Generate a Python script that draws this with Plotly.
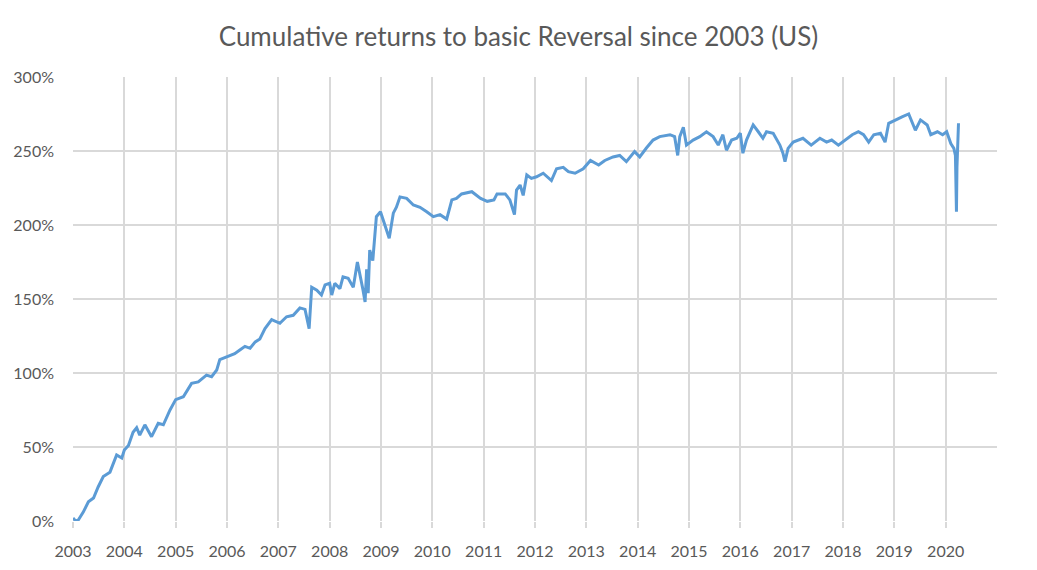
import plotly.graph_objects as go

# decimal year positions and cumulative return (%)
years = [
    2003.00, 2003.05, 2003.10, 2003.20, 2003.30, 2003.40, 2003.49, 2003.59, 2003.72, 2003.85, 2003.95,
    2004.00, 2004.08, 2004.17, 2004.24, 2004.30, 2004.40, 2004.53, 2004.66, 2004.76, 2004.89,
    2005.00, 2005.15, 2005.31, 2005.44, 2005.60, 2005.70, 2005.80, 2005.86, 2005.99,
    2006.15, 2006.25, 2006.35, 2006.45, 2006.55, 2006.64, 2006.74, 2006.87,
    2007.03, 2007.16, 2007.29, 2007.42, 2007.52, 2007.60, 2007.65, 2007.75, 2007.84, 2007.91,
    2008.00, 2008.04, 2008.10, 2008.20, 2008.26, 2008.36, 2008.46, 2008.54, 2008.59, 2008.65,
    2008.69, 2008.72, 2008.75, 2008.78, 2008.84, 2008.88, 2008.91, 2008.99,
    2009.08, 2009.16, 2009.24, 2009.30, 2009.37, 2009.50, 2009.63, 2009.76, 2009.89,
    2010.02, 2010.15, 2010.28, 2010.38, 2010.47, 2010.57, 2010.77, 2010.94,
    2011.07, 2011.20, 2011.26, 2011.42, 2011.51, 2011.60, 2011.64, 2011.71, 2011.77, 2011.84, 2011.93,
    2012.03, 2012.16, 2012.32, 2012.42, 2012.55, 2012.65, 2012.78, 2012.94,
    2013.08, 2013.24, 2013.36, 2013.52, 2013.65, 2013.78, 2013.94,
    2014.04, 2014.17, 2014.30, 2014.43, 2014.63, 2014.72, 2014.78, 2014.82, 2014.89, 2014.95,
    2015.08, 2015.21, 2015.34, 2015.47, 2015.57, 2015.66, 2015.73, 2015.83, 2015.93,
    2016.00, 2016.05, 2016.12, 2016.25, 2016.35, 2016.44, 2016.51, 2016.64, 2016.77, 2016.83, 2016.87, 2016.93,
    2017.03, 2017.22, 2017.38, 2017.55, 2017.68, 2017.78, 2017.91,
    2018.04, 2018.18, 2018.30, 2018.40, 2018.50, 2018.60, 2018.73, 2018.82, 2018.89,
    2019.02, 2019.15, 2019.28, 2019.41, 2019.51, 2019.64, 2019.71, 2019.84, 2019.94,
    2020.02, 2020.10, 2020.16, 2020.19, 2020.21, 2020.22, 2020.25,
]
returns_pct = [
    2, 0, 0.5, 6, 13, 15.5, 23, 30, 33, 44.6, 42.5,
    48, 51, 60, 63, 58, 65, 57, 66, 65, 75,
    82, 84, 93, 94, 98.6, 97.5, 102, 109, 111,
    113, 115.5, 118, 116.7, 121, 123, 130, 136,
    133.6, 138, 139, 144, 143, 130, 158, 156, 152.7, 159.5,
    160.6, 152.7, 160.6, 157, 165, 164, 158, 175, 167, 156,
    148, 170, 154, 183, 176, 194, 205.6, 209,
    199, 191, 208, 212, 219, 218, 213.5, 212, 209,
    205.6, 207, 204, 217, 218, 221, 222.5, 218,
    216, 217, 221, 221, 217, 207, 223.6, 227, 220, 233.8, 231.5,
    232.6, 235, 230, 238, 239, 236, 235, 238,
    243.6, 240.5, 243.6, 246, 247, 242.8, 249.6,
    246, 252, 257.4, 259.7, 261, 259.7, 247, 259.7, 266, 254,
    257.4, 259.7, 263, 259.7, 254, 261, 250.5, 257.4, 258.6,
    262, 248.5, 257.4, 267.6, 263, 258.6, 263, 262, 254, 248.5, 242.8, 251.8,
    256, 258.6, 254, 258.6, 256, 257.4, 254,
    257.4, 261, 263, 261, 256, 261, 262, 256, 268.7,
    271, 273, 275, 264, 271, 267.6, 261, 263, 261,
    263, 255, 251.8, 247, 209, 239, 268.7,
]

y_ticks = [0, 50, 100, 150, 200, 250, 300]
y_labels = ["0%", "50%", "100%", "150%", "200%", "250%", "300%"]
x_ticks = list(range(2003, 2021))
x_labels = [str(v) for v in x_ticks]

title_text = "Cumulative returns to basic Reversal since 2003 (US)"

fig = go.Figure()
fig.add_trace(go.Scatter(
    x=years, y=returns_pct, mode="lines",
    line=dict(color="#5B9BD5", width=3),
    showlegend=False, hoverinfo="skip",
))

grid = "#D9D9D9"
txt = "#595959"
font_family = "Lato, 'Open Sans', sans-serif"

W, H = 1021, 554
fig.update_layout(
    width=W, height=H,
    margin=dict(l=65, r=32, t=69, b=41),
    paper_bgcolor="white", plot_bgcolor="white",
    title=dict(text=title_text, x=0.5, xref="container", xanchor="center",
               y=1 - 29 / H, yref="container", yanchor="middle",
               font=dict(family=font_family, size=26, color=txt)),
    font=dict(family=font_family, color=txt),
    xaxis=dict(
        range=[2003, 2021], tickvals=x_ticks, ticktext=x_labels,
        showgrid=True, gridcolor=grid, gridwidth=1.5,
        zeroline=False, showline=False, automargin=False,
        ticks="outside", ticklen=6, tickcolor=grid, tickwidth=1.5,
        tickfont=dict(size=16, color=txt), ticklabelstandoff=10,
    ),
    yaxis=dict(
        range=[0, 300], tickvals=y_ticks, ticktext=y_labels,
        showgrid=True, gridcolor=grid, gridwidth=1.5,
        zeroline=False, showline=False, automargin=False,
        tickfont=dict(size=16, color=txt), ticklabelstandoff=18,
    ),
)

fig.write_html("out.html")
